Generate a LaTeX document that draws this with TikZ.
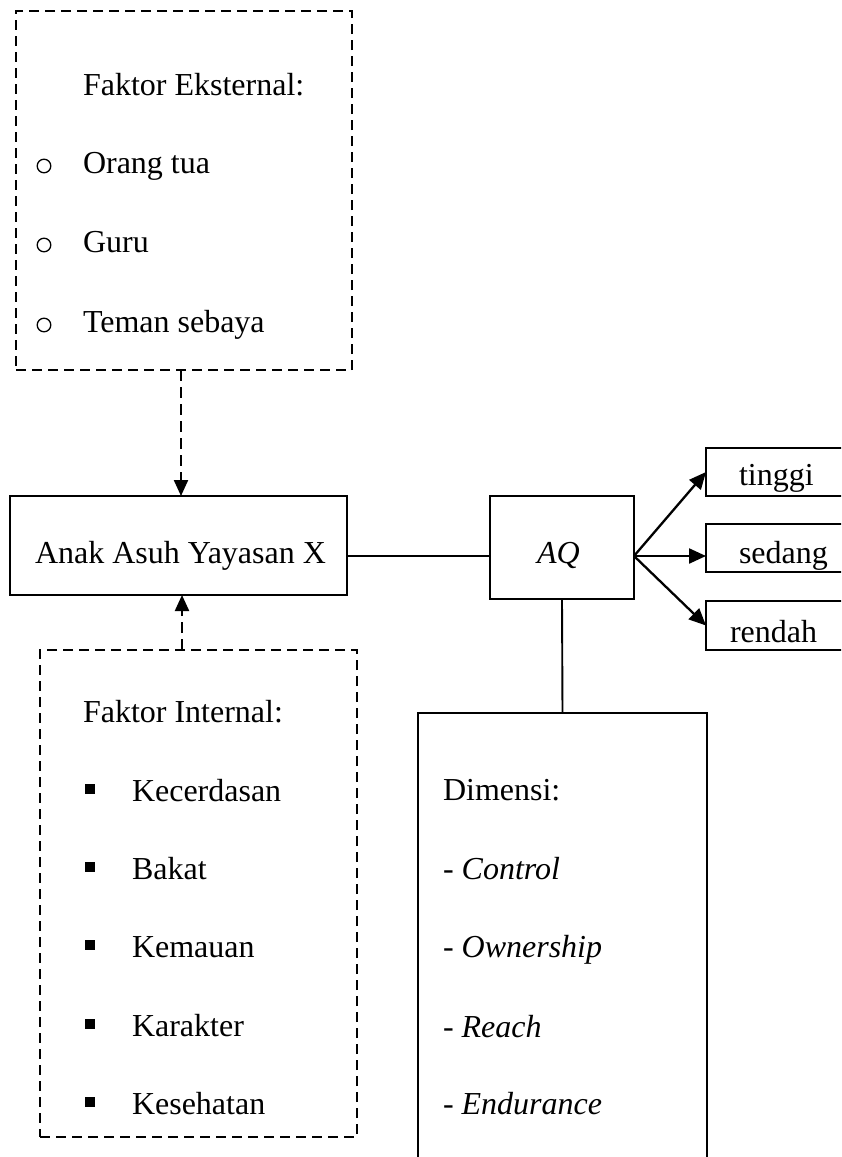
\documentclass[tikz,border=0pt]{standalone}
\usepackage{fontspec}
\setmainfont{Liberation Serif}
\usetikzlibrary{arrows.meta}
\begin{document}
\begin{tikzpicture}[x=1pt,y=-1pt,
  box/.style={draw, line width=1.9pt, inner sep=0pt, outer sep=0pt, anchor=north west},
  dbox/.style={box, line width=2pt, dash pattern=on 10pt off 6pt},
  txt/.style={anchor=base west, inner sep=0pt, outer sep=0pt, font=\fontsize{32}{38}\selectfont},
  conn/.style={line width=1.9pt},
  arr/.style={line width=2.3pt, -{Triangle[length=17pt,width=15pt]}},
  darr/.style={line width=2.2pt, dash pattern=on 11pt off 6pt, -{Triangle[length=16pt,width=14pt]}},
  sqb/.style={fill=black},
  cirb/.style={draw, line width=1.3pt},
]
\useasboundingbox (0,0) rectangle (841,1157);
\clip (0,0) rectangle (841,1157);

% boxes
\node[dbox, minimum width=336pt, minimum height=359pt] (ext) at (16,11) {};
\node[dbox, minimum width=317pt, minimum height=487pt] (int) at (40,650) {};
\node[box, minimum width=337pt, minimum height=99pt] (anak) at (10,496) {};
\node[box, minimum width=144pt, minimum height=103pt] (aq) at (490,496) {};
\node[box, minimum width=150pt, minimum height=48pt] (tinggi) at (706,448) {};
\node[box, minimum width=150pt, minimum height=48pt] (sedang) at (706,524) {};
\node[box, minimum width=150pt, minimum height=49pt] (rendah) at (706,601) {};
\node[box, minimum width=289pt, minimum height=470pt] (dim) at (418,713) {};

% helper coordinates
\coordinate (topx) at (181,0);
\coordinate (botx) at (182,0);
\coordinate (lny) at (0,556);

% texts: external
\node[txt] (extT) at (83,95) {Faktor Eksternal:};
\node[txt] (ext1) at (83,173) {Orang tua};
\node[txt] (ext2) at (83,252) {Guru};
\node[txt] (ext3) at (83,332) {Teman sebaya};
\foreach \yy in {173,252,332}{
  \draw[cirb] (44,\yy-7) circle (6.8pt);
}

% texts: internal
\node[txt] (intT) at (83,722) {Faktor Internal:};
\node[txt] (int1) at (132,801) {Kecerdasan};
\node[txt] (int2) at (132,879) {Bakat};
\node[txt] (int3) at (132,957) {Kemauan};
\node[txt] (int4) at (132,1036) {Karakter};
\node[txt] (int5) at (132,1114) {Kesehatan};
\foreach \yy in {801,879,957,1036,1114}{
  \fill[sqb] (85,\yy-17) rectangle (95,\yy-7);
}

% main texts
\node[txt] (anakT) at (35,563) {Anak Asuh Yayasan X};
\node[txt] (aqT) at (537,563) {\textit{AQ}};
\node[txt] (tinggiT) at (739,485) {tinggi};
\node[txt] (sedangT) at (739,563) {sedang};
\node[txt] (rendahT) at (730,642) {rendah};

% dimensi
\node[txt] (dimT) at (443,800) {Dimensi:};
\node[txt] (dim1) at (443,879) {- \textit{Control}};
\node[txt] (dim2) at (443,957) {- \textit{Ownership}};
\node[txt] (dim3) at (443,1037) {- \textit{Reach}};
\node[txt] (dim4) at (443,1114) {- \textit{Endurance}};

% connectors
\draw[darr] (ext.south -| topx) -- (anak.north -| topx);
\draw[darr] (int.north -| botx) -- (anak.south -| botx);
\draw[conn] (anak.east |- lny) -- (aq.west |- lny);
\draw[arr] (aq.east |- lny) -- (tinggi.west);
\draw[arr] (aq.east |- lny) -- (sedang.west |- lny);
\draw[arr] (aq.east |- lny) -- (rendah.west);
\draw[conn] (aq.south) -- (dim.north);
\end{tikzpicture}
\end{document}
